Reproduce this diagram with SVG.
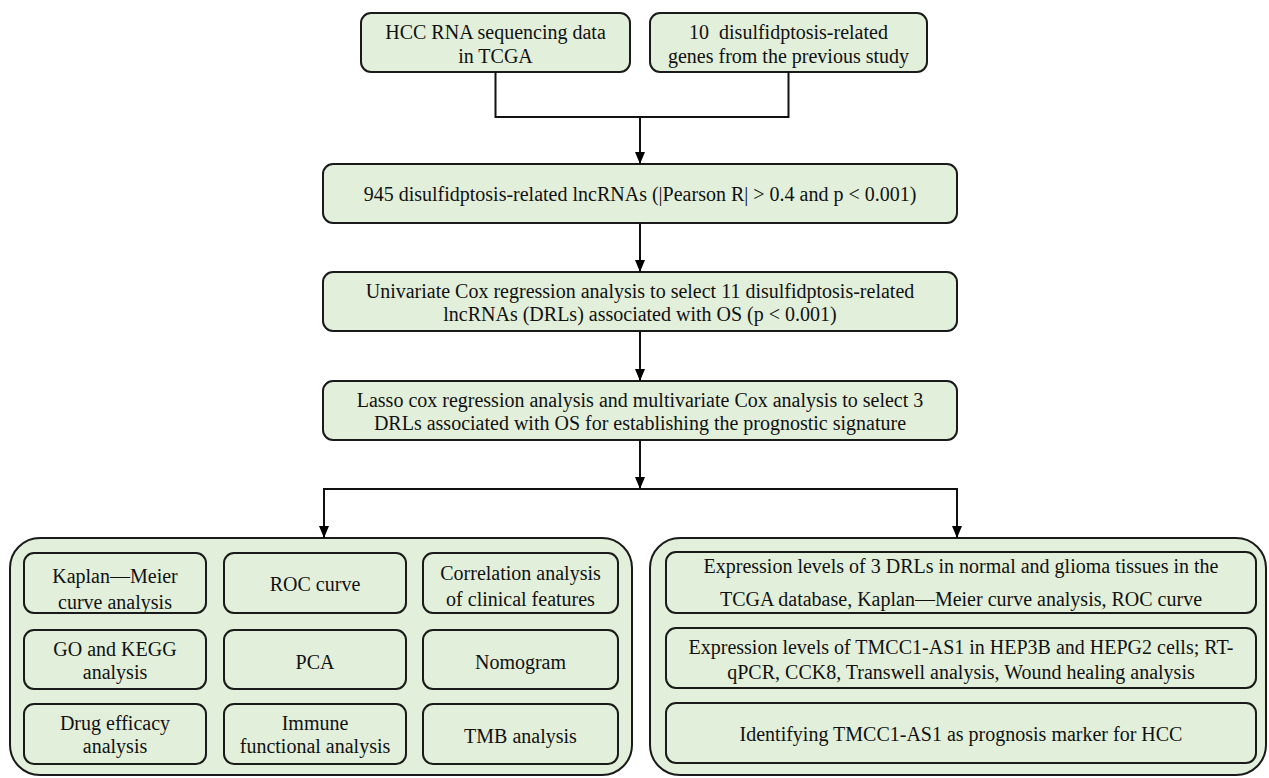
<svg xmlns="http://www.w3.org/2000/svg" width="1269" height="778" viewBox="0 0 1269 778">
<defs>
<marker id="ah" markerWidth="12" markerHeight="10" refX="12" refY="5" orient="auto-start-reverse" markerUnits="userSpaceOnUse" viewBox="0 0 12 10">
<path d="M0,0 L12,5 L0,10 Z" fill="#000"/>
</marker>
</defs>
<style>
.box{fill:#E2EFDA;stroke:#1a1a1a;stroke-width:2}
.t{font-family:'Liberation Serif','Times New Roman',serif;font-size:20px;fill:#111;text-anchor:middle}
.c{fill:none;stroke:#111;stroke-width:2}
</style>
<rect width="1269" height="778" fill="#fff"/>
<g id="n1"><rect class="box" x="361" y="13" width="269" height="59" rx="10"/>
<text class="t" x="495.5" y="39">HCC RNA sequencing data</text><text class="t" x="495.5" y="63">in TCGA</text></g>
<g id="n2"><rect class="box" x="650" y="13" width="277" height="59" rx="10"/>
<text class="t" x="788.5" y="39">10&#160; disulfidptosis-related</text><text class="t" x="788.5" y="63">genes from the previous study</text></g>
<g id="n3"><rect class="box" x="323" y="164" width="634" height="59" rx="10"/>
<text class="t" x="640" y="201">945 disulfidptosis-related lncRNAs (|Pearson R| &gt; 0.4 and p &lt; 0.001)</text></g>
<g id="n4"><rect class="box" x="323" y="272" width="634" height="59" rx="10"/>
<text class="t" x="640" y="298">Univariate Cox regression analysis to select 11 disulfidptosis-related</text><text class="t" x="640" y="321">lncRNAs (DRLs) associated with OS (p &lt; 0.001)</text></g>
<g id="n5"><rect class="box" x="323" y="381" width="634" height="59" rx="10"/>
<text class="t" x="640" y="407">Lasso cox regression analysis and multivariate Cox analysis to select 3</text><text class="t" x="640" y="430">DRLs associated with OS for establishing the prognostic signature</text></g>
<g id="leftpanel"><rect class="box" x="10" y="538" width="622" height="237" rx="30"/>
<g id="l1"><rect class="box" x="24" y="553" width="182" height="60" rx="10"/><text class="t" x="115" y="583">Kaplan—Meier</text><text class="t" x="115" y="609">curve analysis</text></g>
<g id="l2"><rect class="box" x="224" y="553" width="182" height="60" rx="10"/><text class="t" x="315" y="591">ROC curve</text></g>
<g id="l3"><rect class="box" x="423" y="553" width="195" height="60" rx="10"/><text class="t" x="520.5" y="580">Correlation analysis</text><text class="t" x="520.5" y="606">of clinical features</text></g>
<g id="l4"><rect class="box" x="24" y="630" width="182" height="59" rx="10"/><text class="t" x="115" y="656">GO and KEGG</text><text class="t" x="115" y="679">analysis</text></g>
<g id="l5"><rect class="box" x="224" y="630" width="182" height="59" rx="10"/><text class="t" x="315" y="669">PCA</text></g>
<g id="l6"><rect class="box" x="423" y="630" width="195" height="59" rx="10"/><text class="t" x="520.5" y="669">Nomogram</text></g>
<g id="l7"><rect class="box" x="24" y="704" width="182" height="60" rx="10"/><text class="t" x="115" y="730">Drug efficacy</text><text class="t" x="115" y="753">analysis</text></g>
<g id="l8"><rect class="box" x="224" y="704" width="182" height="60" rx="10"/><text class="t" x="315" y="730">Immune</text><text class="t" x="315" y="753">functional analysis</text></g>
<g id="l9"><rect class="box" x="423" y="704" width="195" height="60" rx="10"/><text class="t" x="520.5" y="743">TMB analysis</text></g>
</g>
<g id="rightpanel"><rect class="box" x="650" y="538" width="616" height="237" rx="30"/>
<g id="r1"><rect class="box" x="666" y="552" width="590" height="61" rx="10"/><text class="t" x="961" y="573">Expression levels of 3 DRLs in normal and glioma tissues in the</text><text class="t" x="961" y="606">TCGA database, Kaplan—Meier curve analysis, ROC curve</text></g>
<g id="r2"><rect class="box" x="666" y="628" width="590" height="60" rx="10"/><text class="t" x="961" y="654">Expression levels of TMCC1-AS1 in HEP3B and HEPG2 cells; RT-</text><text class="t" x="961" y="679">qPCR, CCK8, Transwell analysis, Wound healing analysis</text></g>
<g id="r3"><rect class="box" x="666" y="703" width="590" height="60" rx="10"/><text class="t" x="961" y="741">Identifying TMCC1-AS1 as prognosis marker for HCC</text></g>
</g>
<g id="connectors">
<path class="c" d="M495.5,72 V117 H788.5 V72"/>
<path class="c" d="M640,117 V164" marker-end="url(#ah)"/>
<path class="c" d="M640,223 V272" marker-end="url(#ah)"/>
<path class="c" d="M640,331 V381" marker-end="url(#ah)"/>
<path class="c" d="M640,440 V489" marker-end="url(#ah)"/>
<path class="c" d="M324,538 V489 H957 V538" marker-start="url(#ah)" marker-end="url(#ah)"/>
</g>
</svg>
